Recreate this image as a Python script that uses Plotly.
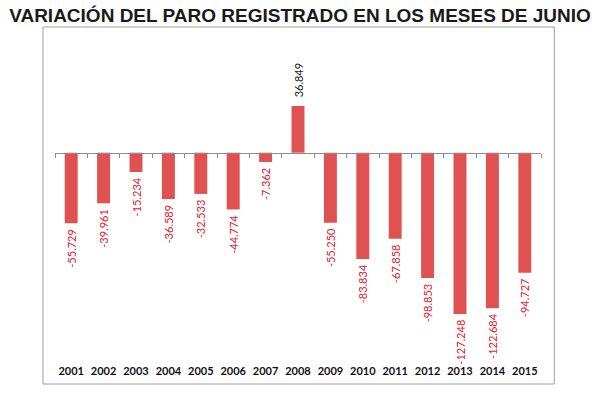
import plotly.graph_objects as go

years = ["2001", "2002", "2003", "2004", "2005", "2006", "2007", "2008",
         "2009", "2010", "2011", "2012", "2013", "2014", "2015"]
values = [-55729, -39961, -15234, -36589, -32533, -44774, -7362, 36849,
          -55250, -83834, -67858, -98853, -127248, -122684, -94727]
labels = ["-55.729", "-39.961", "-15.234", "-36.589", "-32.533", "-44.774", "-7.362", "36.849",
          "-55.250", "-83.834", "-67.858", "-98.853", "-127.248", "-122.684", "-94.727"]

title_text = "VARIACIÓN DEL PARO REGISTRADO EN LOS MESES DE JUNIO"

# layout geometry (pixels)
W, H = 600, 396
pl, pr = 54.7, 540.7
pt, pb = 27, 355
zero_px = 152.7
px_per_unit = 1.267 / 1000.0
y_top = (zero_px - pt) / px_per_unit
y_bot = -(pb - zero_px) / px_per_unit
zero_paper = (pb - zero_px) / (pb - pt)

def xp(px):
    return (px - pl) / (pr - pl)

def yp(py):
    return (pb - py) / (pb - pt)

label_colors = ["#1a1a1a" if v > 0 else "#e0202f" for v in values]
# small padding between bar end and its label (nbsp on the side facing the bar)
templates = ["\u00a0\u00a0%{text}" if v > 0 else "%{text}\u00a0" for v in values]
idx = list(range(len(years)))

fig = go.Figure()
fig.add_trace(go.Bar(
    x=idx, y=values,
    marker=dict(color="#e05252", line=dict(width=0)),
    text=labels, texttemplate=templates,
    textposition="outside", textangle=-90, constraintext="none",
    textfont=dict(family="Lato, sans-serif", size=11, color=label_colors),
    cliponaxis=False, hoverinfo="skip",
))
# invisible trace to activate the zero-line axis
fig.add_trace(go.Scatter(x=[-0.5, 14.5], y=[0, 0], xaxis="x2", mode="lines",
                         line=dict(width=0), hoverinfo="skip", showlegend=False))

fig.update_layout(
    width=W, height=H,
    margin=dict(l=pl, r=W - pr, t=pt, b=H - pb, pad=0),
    paper_bgcolor="white", plot_bgcolor="white",
    showlegend=False,
    bargap=0.6,
    title=dict(text=title_text, x=0.5, xref="container", xanchor="center",
               y=1 - 15.5 / H, yref="container", yanchor="middle",
               font=dict(family="Liberation Sans, Arial, sans-serif",
                         size=19, color="#1a1a1a", weight="bold")),
    xaxis=dict(range=[-0.5, 14.5], tickmode="array", tickvals=idx, ticktext=years,
               showline=False, showgrid=False, zeroline=False, ticks="",
               tickfont=dict(family="Lato, sans-serif", size=11, color="#111111", weight="bold"),
               ticklabelstandoff=8),
    xaxis2=dict(range=[-0.5, 14.5], overlaying="x", anchor="free", position=zero_paper,
                side="bottom", showline=True, linecolor="#8c8c8c", linewidth=1,
                tickmode="array", tickvals=[i - 0.5 for i in range(16)], ticks="outside",
                ticklen=4, tickcolor="#8c8c8c", tickwidth=1, showticklabels=False,
                showgrid=False, zeroline=False),
    yaxis=dict(range=[y_bot, y_top], visible=False, showgrid=False, zeroline=False),
    shapes=[dict(type="rect", xref="paper", yref="paper",
                 x0=xp(42.7), x1=xp(554), y0=yp(384), y1=yp(27),
                 line=dict(color="#a0a0a0", width=1), fillcolor="rgba(0,0,0,0)", layer="below")],
)

fig.write_html("out.html", config={"displayModeBar": False},
               post_script="document.body.style.margin='0';document.body.style.overflow='hidden';")
